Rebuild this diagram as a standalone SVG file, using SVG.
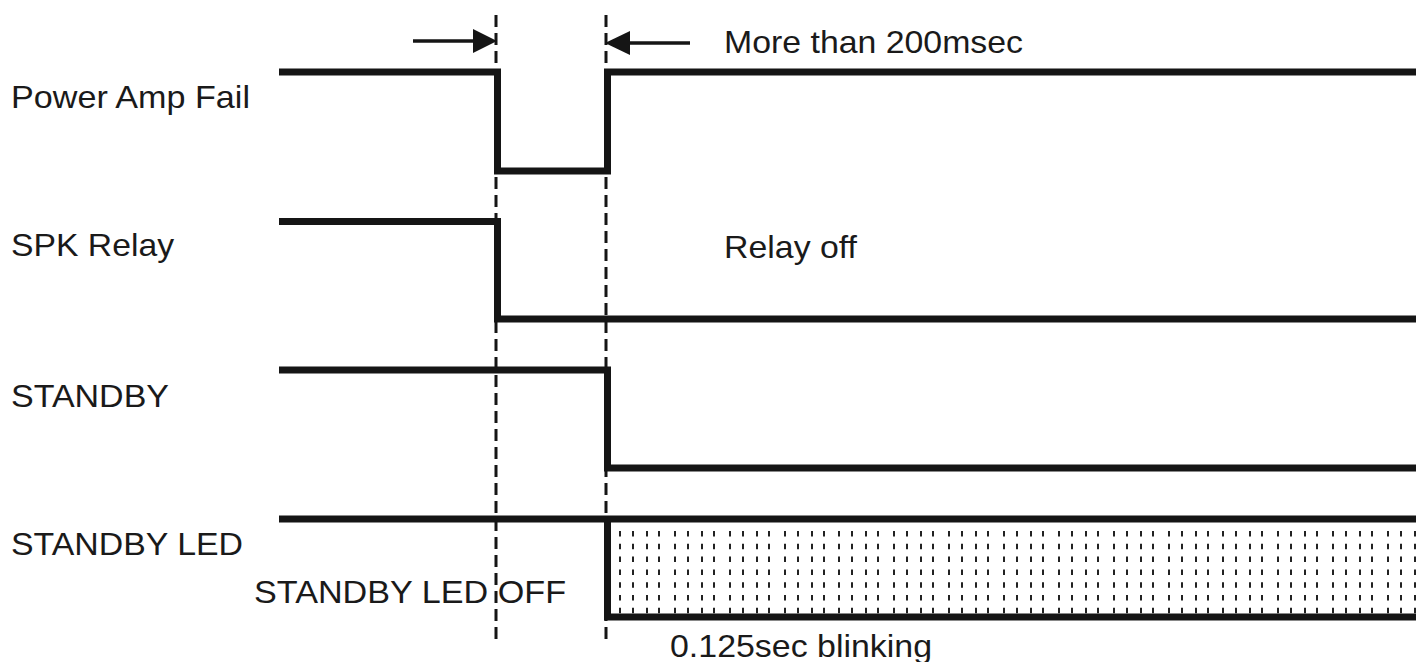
<svg xmlns="http://www.w3.org/2000/svg" width="1416" height="662" viewBox="0 0 1416 662">
<style>
.lbl{font-family:"Liberation Sans",Arial,sans-serif;font-size:32px;fill:#1a1a1a}
.sig{fill:none;stroke:#151515;stroke-width:7;stroke-linejoin:miter;stroke-linecap:butt}
.dash{stroke:#151515;stroke-width:3;stroke-dasharray:12 6;fill:none}
.arr{stroke:#151515;stroke-width:3.5;fill:none}
.head{fill:#151515}
.bl line{stroke:#222;stroke-width:2;stroke-dasharray:5.5 7.3}
</style>
<rect width="1416" height="662" fill="#fff"/>
<g id="connectors">
<line class="dash" x1="496" y1="15" x2="496" y2="640"/>
<line class="dash" x1="606" y1="15" x2="606" y2="640"/>
<line class="arr" x1="413" y1="41" x2="476" y2="41"/>
<polygon class="head" points="473,29 497,41 473,53"/>
<line class="arr" x1="690" y1="43" x2="627" y2="43"/>
<polygon class="head" points="630,31 605,43 630,55"/>
<text class="lbl" x="724" y="53" textLength="299" lengthAdjust="spacingAndGlyphs">More than 200msec</text>
</g>
<g id="power-amp-fail">
<text class="lbl" x="11" y="108" textLength="239" lengthAdjust="spacingAndGlyphs">Power Amp Fail</text>
<polyline class="sig" points="279,72 497.5,72 497.5,171 607.5,171 607.5,72 1416,72"/>
</g>
<g id="spk-relay">
<text class="lbl" x="11" y="256" textLength="163" lengthAdjust="spacingAndGlyphs">SPK Relay</text>
<polyline class="sig" points="279,221.5 497.5,221.5 497.5,319 1416,319"/>
<text class="lbl" x="724" y="258" textLength="133" lengthAdjust="spacingAndGlyphs">Relay off</text>
</g>
<g id="standby">
<text class="lbl" x="11" y="407" textLength="158" lengthAdjust="spacingAndGlyphs">STANDBY</text>
<polyline class="sig" points="279,370 607.5,370 607.5,468 1416,468"/>
</g>
<g id="standby-led">
<text class="lbl" x="11" y="555" textLength="232" lengthAdjust="spacingAndGlyphs">STANDBY LED</text>
<g class="bl">
<line x1="620" y1="531" x2="620" y2="614"/><line x1="633" y1="531" x2="633" y2="614"/><line x1="647" y1="531" x2="647" y2="614"/><line x1="659" y1="531" x2="659" y2="614"/>
<line x1="675" y1="531" x2="675" y2="614"/><line x1="688" y1="531" x2="688" y2="614"/><line x1="702" y1="531" x2="702" y2="614"/><line x1="714" y1="531" x2="714" y2="614"/>
<line x1="730" y1="531" x2="730" y2="614"/><line x1="743" y1="531" x2="743" y2="614"/><line x1="757" y1="531" x2="757" y2="614"/><line x1="769" y1="531" x2="769" y2="614"/>
<line x1="785" y1="531" x2="785" y2="614"/><line x1="798" y1="531" x2="798" y2="614"/><line x1="812" y1="531" x2="812" y2="614"/><line x1="824" y1="531" x2="824" y2="614"/>
<line x1="839" y1="531" x2="839" y2="614"/><line x1="852" y1="531" x2="852" y2="614"/><line x1="866" y1="531" x2="866" y2="614"/><line x1="878" y1="531" x2="878" y2="614"/>
<line x1="894" y1="531" x2="894" y2="614"/><line x1="907" y1="531" x2="907" y2="614"/><line x1="921" y1="531" x2="921" y2="614"/><line x1="933" y1="531" x2="933" y2="614"/>
<line x1="949" y1="531" x2="949" y2="614"/><line x1="962" y1="531" x2="962" y2="614"/><line x1="976" y1="531" x2="976" y2="614"/><line x1="988" y1="531" x2="988" y2="614"/>
<line x1="1004" y1="531" x2="1004" y2="614"/><line x1="1017" y1="531" x2="1017" y2="614"/><line x1="1031" y1="531" x2="1031" y2="614"/><line x1="1043" y1="531" x2="1043" y2="614"/>
<line x1="1059" y1="531" x2="1059" y2="614"/><line x1="1072" y1="531" x2="1072" y2="614"/><line x1="1086" y1="531" x2="1086" y2="614"/><line x1="1098" y1="531" x2="1098" y2="614"/>
<line x1="1114" y1="531" x2="1114" y2="614"/><line x1="1127" y1="531" x2="1127" y2="614"/><line x1="1141" y1="531" x2="1141" y2="614"/><line x1="1153" y1="531" x2="1153" y2="614"/>
<line x1="1169" y1="531" x2="1169" y2="614"/><line x1="1182" y1="531" x2="1182" y2="614"/><line x1="1196" y1="531" x2="1196" y2="614"/><line x1="1208" y1="531" x2="1208" y2="614"/>
<line x1="1223" y1="531" x2="1223" y2="614"/><line x1="1236" y1="531" x2="1236" y2="614"/><line x1="1250" y1="531" x2="1250" y2="614"/><line x1="1262" y1="531" x2="1262" y2="614"/>
<line x1="1278" y1="531" x2="1278" y2="614"/><line x1="1291" y1="531" x2="1291" y2="614"/><line x1="1305" y1="531" x2="1305" y2="614"/><line x1="1317" y1="531" x2="1317" y2="614"/>
<line x1="1333" y1="531" x2="1333" y2="614"/><line x1="1346" y1="531" x2="1346" y2="614"/><line x1="1360" y1="531" x2="1360" y2="614"/><line x1="1372" y1="531" x2="1372" y2="614"/>
<line x1="1388" y1="531" x2="1388" y2="614"/><line x1="1401" y1="531" x2="1401" y2="614"/><line x1="1415" y1="531" x2="1415" y2="614"/>
</g>
<line class="sig" x1="279" y1="519" x2="1416" y2="519"/>
<polyline class="sig" points="607.5,519 607.5,617 1416,617"/>
<text class="lbl" x="254" y="603" textLength="312" lengthAdjust="spacingAndGlyphs">STANDBY LED OFF</text>
<text class="lbl" x="670" y="657" textLength="262" lengthAdjust="spacingAndGlyphs">0.125sec blinking</text>
</g>
</svg>
